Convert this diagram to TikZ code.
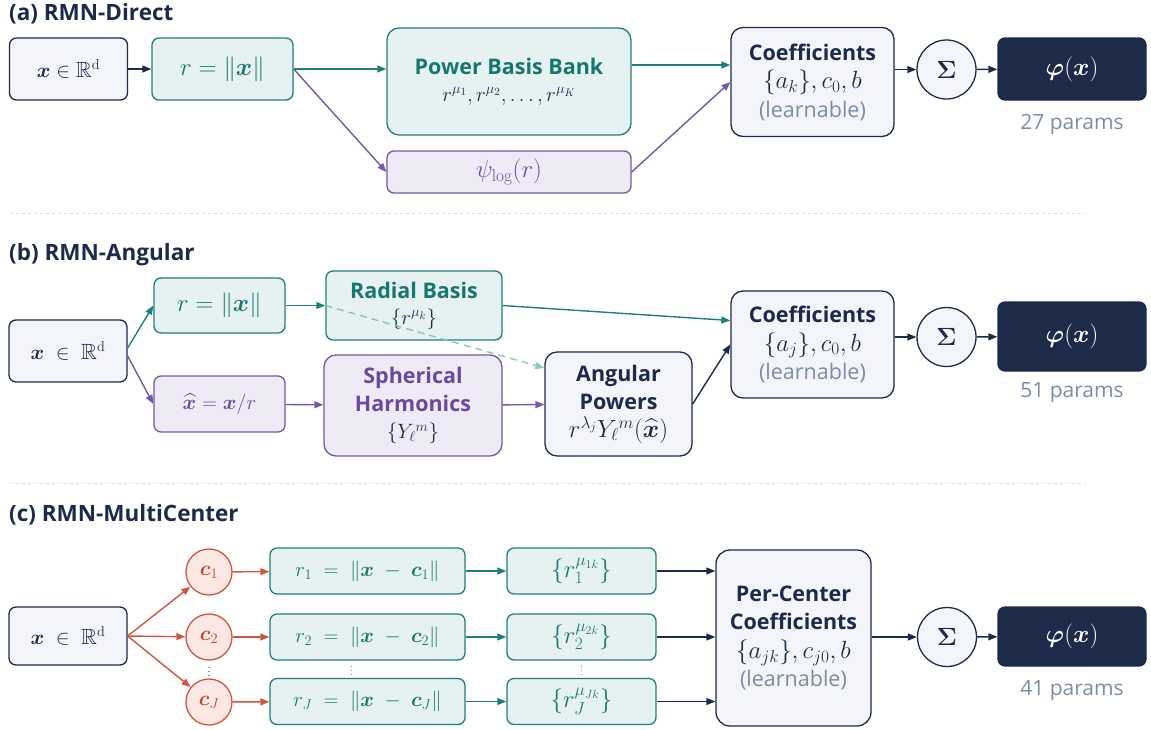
\documentclass[tikz,border=0pt]{standalone}
\usepackage{amsmath,amssymb,bm}
\usepackage[no-math]{fontspec}
\setmainfont{Open Sans}
\usetikzlibrary{arrows.meta}
\definecolor{navy}{HTML}{1E2A4A}
\definecolor{lightbg}{HTML}{F3F5FA}
\definecolor{tealc}{HTML}{1F7F7A}
\definecolor{tealtxt}{HTML}{17776F}
\definecolor{tealfill}{HTML}{E6F2F1}
\definecolor{purp}{HTML}{7656A8}
\definecolor{purptxt}{HTML}{6B4A9E}
\definecolor{purpfill}{HTML}{EFEBF6}
\definecolor{coral}{HTML}{D0553F}
\definecolor{coraltxt}{HTML}{C4412C}
\definecolor{coralfill}{HTML}{FBE8E4}
\definecolor{grayt}{HTML}{7D8BA8}
\definecolor{dashteal}{HTML}{8CC4C1}
\definecolor{sepc}{HTML}{D8DCE4}
\definecolor{dotc}{HTML}{8A90B0}
\newcommand{\msz}[1]{\fontsize{#1}{26}\selectfont}
\begin{document}
\begin{tikzpicture}[x=1pt,y=-1pt,
 base/.style={draw, line width=1.3pt, rounded corners=7pt, inner sep=0pt, align=center, font=\fontsize{21.5}{28.5}\selectfont},
 nbox/.style={base, draw=navy, fill=lightbg, text=navy},
 tbox/.style={base, draw=tealc, fill=tealfill, text=tealtxt},
 pbox/.style={base, draw=purp, fill=purpfill, text=purptxt},
 obox/.style={base, draw=navy, fill=navy, text=white, font=\fontsize{27}{30}\selectfont},
 sz/.style 2 args={minimum width=#1pt, minimum height=#2pt},
 mf/.style={font=\fontsize{#1}{26}\selectfont},
 circ/.style={circle, draw=navy, fill=lightbg, line width=1.3pt, inner sep=0pt, minimum size=59pt, text=navy, font=\fontsize{23}{25}\selectfont},
 ccirc/.style={circle, draw=coral, fill=coralfill, line width=1.3pt, inner sep=0pt, minimum size=46pt, text=coraltxt, font=\fontsize{22}{24}\selectfont},
 arr/.style={line width=1.4pt, -{Triangle[length=9pt,width=7pt]}},
 ttl/.style={anchor=base west, inner sep=0pt, font=\bfseries\fontsize{22.5}{26}\selectfont, text=navy},
 prm/.style={font=\fontsize{21}{24}\selectfont, text=grayt},
 sepl/.style={draw=sepc, line width=0.8pt, dash pattern=on 3pt off 3pt},
 dts/.style={draw=dotc, line width=1.3pt, dash pattern=on 1.3pt off 2.7pt},
]
\useasboundingbox (0,0) rectangle (1151,729);

% ---------------- (a) ----------------
\node[ttl] (ta) at (9,20) {(a) RMN-Direct};
\node[nbox, sz={118}{62}, mf=22] (ax) at (68.5,69) {$\boldsymbol{x}\in\mathbb{R}^{\mathrm{d}}$};
\node[tbox, sz={141}{62}, mf=24] (ar) at (222.5,69) {$r=\|\boldsymbol{x}\|$};
\node[tbox, sz={244}{107}, rounded corners=12pt, font=\fontsize{21.5}{27}\selectfont] (apbb) at (509,81.5) {\textbf{Power Basis Bank}\\ {\color{navy}\msz{22}$r^{\mu_1}, r^{\mu_2}, \dots, r^{\mu_K}$}};
\node[pbox, sz={244}{42}, mf=24] (apsi) at (509,172) {$\psi_{\log}(r)$};
\node[nbox, sz={163}{109}, rounded corners=12pt] (acoef) at (812.5,82) {\textbf{Coefficients}\\ {\msz{24}$\{a_k\},c_0,b$}\\ {\color{grayt}(learnable)}};
\node[circ] (asig) at (946.5,69.5) {$\boldsymbol{\Sigma}$};
\node[obox, sz={148}{62}] (aphi) at (1072,69) {$\boldsymbol{\varphi}(\boldsymbol{x})$};
\node[prm] (aprm) at (1072,124) {27 params};

\draw[arr, navy] (ax) -- (ar);
\draw[arr, tealc] (ar.east) -- (ar.east -| apbb.west);
\draw[arr, purp] (ar.east) -- (apsi.west);
\draw[arr, tealc] ([yshift=16.5pt]apbb.east) -- ([yshift=16.5pt]apbb.east -| acoef.west);
\draw[arr, purp] (apsi.east) -- (acoef.west);
\draw[arr, navy] (acoef.east |- asig) -- (asig);
\draw[arr, navy] (asig) -- (aphi);

\draw[sepl] (10,213) -- (1085,213);

% ---------------- (b) ----------------
\node[ttl] (tb) at (9,260) {(b) RMN-Angular};
\node[nbox, sz={118}{62}, mf=22] (bx) at (68,351) {$\boldsymbol{x}\;\in\;\mathbb{R}^{\mathrm{d}}$};
\node[tbox, sz={131}{55}, mf=24] (br) at (219.5,305.5) {$r=\|\boldsymbol{x}\|$};
\node[pbox, sz={131}{56}, mf=22] (bxh) at (219.5,404) {$\widehat{\boldsymbol{x}}=\boldsymbol{x}/r$};
\node[tbox, sz={176}{69}, font=\fontsize{21.5}{26}\selectfont] (brb) at (414,305.5) {\textbf{Radial Basis}\\ {\color{navy}\msz{22}$\{r^{\mu_k}\}$}};
\node[pbox, sz={178}{101}, rounded corners=12pt, font=\fontsize{21.5}{27.5}\selectfont] (bsh) at (413,405.5) {\textbf{Spherical}\\ \textbf{Harmonics}\\ {\color{navy}\msz{22}$\{Y_{\ell}{}^{m}\}$}};
\node[nbox, sz={147}{104}, rounded corners=12pt, font=\fontsize{21.5}{28}\selectfont] (bap) at (618.5,404) {\textbf{Angular}\\ \textbf{Powers}\\ {\msz{23}$r^{\lambda_j}Y_{\ell}{}^{m}(\widehat{\boldsymbol{x}})$}};
\node[nbox, sz={163}{107}, rounded corners=12pt] (bcoef) at (812.5,344.5) {\textbf{Coefficients}\\ {\msz{24}$\{a_j\},c_0,b$}\\ {\color{grayt}(learnable)}};
\node[circ] (bsig) at (946.5,337) {$\boldsymbol{\Sigma}$};
\node[obox, sz={148}{69}] (bphi) at (1072,336.5) {$\boldsymbol{\varphi}(\boldsymbol{x})$};
\node[prm] (bprm) at (1072,393) {51 params};

\draw[arr, tealc] ([yshift=3pt]bx.east) -- (br.west);
\draw[arr, purp] ([yshift=-5pt]bx.east) -- (bxh.west);
\draw[arr, tealc] (br) -- (brb);
\draw[arr, tealc] (brb.east) -- ([yshift=24pt]bcoef.west);
\draw[arr, purp] (bxh) -- (bsh);
\draw[arr, purp] (bsh) -- (bap);
\draw[arr, navy] (bap.east) -- (bcoef.west);
\draw[arr, navy] (bcoef.east |- bsig) -- (bsig);
\draw[arr, navy] (bsig) -- (bphi);
\draw[arr, dashteal, dash pattern=on 7pt off 5pt] (brb.west) -- ([yshift=36pt]bap.west);

\draw[sepl] (10,483) -- (1085,483);

% ---------------- (c) ----------------
\node[ttl] (tc) at (9,521) {(c) RMN-MultiCenter};
\node[nbox, sz={118}{58}, mf=22] (cx) at (68,636) {$\boldsymbol{x}\;\in\;\mathbb{R}^{\mathrm{d}}$};
\node[ccirc] (cc1) at (209,572) {$\boldsymbol{c}_1$};
\node[ccirc] (cc2) at (209,637) {$\boldsymbol{c}_2$};
\node[ccirc] (ccJ) at (209,702) {$\boldsymbol{c}_J$};
\node[tbox, sz={195}{46}, mf=22] (cr1) at (367.5,571) {$r_1\;=\;\|\boldsymbol{x}\;-\;\boldsymbol{c}_1\|$};
\node[tbox, sz={195}{46}, mf=22] (cr2) at (367.5,637) {$r_2\;=\;\|\boldsymbol{x}\;-\;\boldsymbol{c}_2\|$};
\node[tbox, sz={195}{46}, mf=22] (crJ) at (367.5,701.5) {$r_J\;=\;\|\boldsymbol{x}\;-\;\boldsymbol{c}_J\|$};
\node[tbox, sz={149}{46}, mf=24] (cb1) at (581.5,571) {$\{r_1^{\mu_{1k}}\}$};
\node[tbox, sz={149}{46}, mf=24] (cb2) at (581.5,637) {$\{r_2^{\mu_{2k}}\}$};
\node[tbox, sz={149}{46}, mf=24] (cbJ) at (581.5,701.5) {$\{r_J^{\mu_{Jk}}\}$};
\node[nbox, sz={155}{176}, rounded corners=14pt, font=\fontsize{21.5}{28.5}\selectfont] (cpc) at (793.5,638) {\textbf{Per-Center}\\ \textbf{Coefficients}\\ {\msz{24}$\{a_{jk}\},c_{j0},b$}\\ {\color{grayt}(learnable)}};
\node[circ] (csig) at (947,637) {$\boldsymbol{\Sigma}$};
\node[obox, sz={148}{59}] (cphi) at (1072,636.5) {$\boldsymbol{\varphi}(\boldsymbol{x})$};
\node[prm] (cprm) at (1072,690) {41 params};

\draw[arr, coral] (cx.east) -- (cc1);
\draw[arr, coral] (cx.east) -- (cc2);
\draw[arr, coral] (cx.east) -- (ccJ);
\draw[arr, coral] (cc1) -- (cr1);
\draw[arr, coral] (cc2) -- (cr2);
\draw[arr, coral] (ccJ) -- (crJ);
\draw[arr, tealc] (cr1) -- (cb1);
\draw[arr, tealc] (cr2) -- (cb2);
\draw[arr, tealc] (crJ) -- (cbJ);
\draw[arr, navy] (cb1.east) -- (cb1.east -| cpc.west);
\draw[arr, navy] (cb2.east) -- (cb2.east -| cpc.west);
\draw[arr, navy] (cbJ.east) -- (cbJ.east -| cpc.west);
\draw[arr, navy] (cpc.east |- csig) -- (csig);
\draw[arr, navy] (csig) -- (cphi);
\draw[dts] ([yshift=-6pt]cc2.south) -- ([yshift=1pt]ccJ.north);
\draw[dts] ([xshift=-16pt,yshift=-5pt]cr2.south) -- ([xshift=-16pt,yshift=2pt]crJ.north);
\draw[dts] ([yshift=-5pt]cb2.south) -- ([yshift=2pt]cbJ.north);
\end{tikzpicture}
\end{document}
